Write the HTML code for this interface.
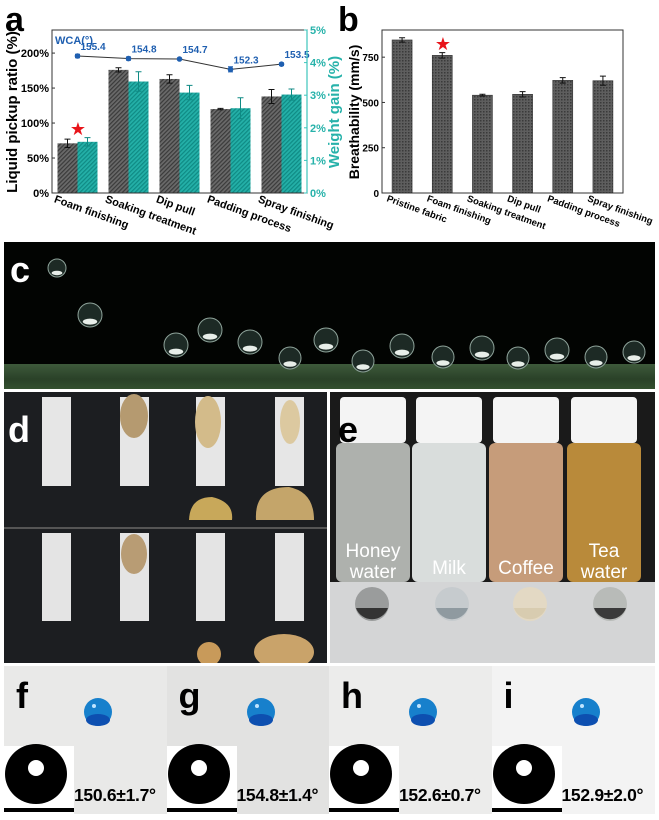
<!DOCTYPE html>
<html><head><meta charset="utf-8"><style>
body{margin:0;width:659px;height:820px;overflow:hidden;background:#fff;font-family:"Liberation Sans",Arial,sans-serif;position:relative}
.abs{position:absolute}
.lbl{position:absolute;font-weight:bold;font-size:36px;line-height:1;font-family:"Liberation Sans",sans-serif}
</style></head><body>
<svg class="abs" style="left:0;top:0" width="659" height="240">
<defs>
<pattern id="hd" width="3" height="3" patternUnits="userSpaceOnUse" patternTransform="rotate(45)"><rect width="3" height="3" fill="#6a6a6a"/><rect width="1.2" height="3" fill="#3a3a3a"/></pattern>
<pattern id="ht" width="3" height="3" patternUnits="userSpaceOnUse" patternTransform="rotate(45)"><rect width="3" height="3" fill="#24b0a8"/><rect width="1.2" height="3" fill="#0f8a84"/></pattern>
<pattern id="hb" width="3" height="3" patternUnits="userSpaceOnUse"><rect width="3" height="3" fill="#5e5e5e"/><rect width="1.5" height="1.5" fill="#3a3a3a"/></pattern>
</defs>
<g id="ga"></g><g id="gb"></g>
</svg>

<div class="abs" style="left:4px;top:242px;width:651px;height:147px;background:#020402;overflow:hidden">
 <div class="abs" style="left:0;top:122px;width:651px;height:25px;background:linear-gradient(#3e5a3b,#2a4128 60%,#33502f)"></div>
 <svg class="abs" style="left:0;top:0" width="651" height="147" id="drops"></svg>
 <div class="lbl" style="left:6px;top:10px;color:#fff">c</div>
</div>

<div class="abs" style="left:4px;top:392px;width:323px;height:271px;background:#1c1e21;overflow:hidden">
 <svg width="323" height="271" id="dsvg"></svg>
 <div class="lbl" style="left:4px;top:20px;color:#fff">d</div>
</div>

<div class="abs" style="left:330px;top:392px;width:325px;height:190px;background:#1a1a1a;overflow:hidden">
 <svg width="325" height="190" id="esvg"></svg>
 <div class="lbl" style="left:8px;top:20px;color:#000">e</div>
</div>
<div class="abs" style="left:330px;top:582px;width:325px;height:81px;background:#d4d5d6;overflow:hidden">
 <svg width="325" height="81" id="e2svg"></svg>
</div>

<div id="fi"></div>

<script>
var NS="http://www.w3.org/2000/svg";
function mk(p,t,a){var e=document.createElementNS(NS,t);for(var k in a)e.setAttribute(k,a[k]);p.appendChild(e);return e;}
// ---- chart a data
var catsA=["Foam finishing","Soaking treatment","Dip pull","Padding process","Spray finishing"];
var pickup=[71,176,163,120,138];
var pickupErr=[6,3,6,1,10];
var gain=[1.57,3.42,3.08,2.6,3.02];
var gainErr=[0.13,0.3,0.22,0.32,0.17];
var wca=[155.4,154.8,154.7,152.3,153.5];
var wcaErr=[0.4,0.4,0.1,0.6,0.3];
var leftTicks=[0,50,100,150,200];
var rightTicks=[0,1,2,3,4,5];
// ---- chart b data
var catsB=["Pristine fabric","Foam finishing","Soaking treatment","Dip pull","Padding process","Spray finishing"];
var breath=[845,760,540,545,622,620];
var breathErr=[12,15,5,15,15,25];
var bTicks=[0,250,500,750];

var ga=document.getElementById('ga');
var X0=52,X1=307,Y0=193,Y1=30;
function yL(v){return Y0-v/233*(Y0-Y1);}
function yR(v){return Y0-v/5*(Y0-Y1);}
function yW(v){return 56+(155.4-v)*4.3;}
function xC(i){return X0+(X1-X0)/catsA.length*(i+0.5);}
var t;
t=mk(ga,'text',{x:5,y:31,'font-size':34,'font-weight':'bold'});t.textContent='a';


for(var i=0;i<catsA.length;i++){
 var cx=xC(i);
 var r=mk(ga,'rect',{x:cx-20,y:yL(pickup[i]),width:20,height:Y0-yL(pickup[i]),fill:'url(#hd)'});
 
 
 var r2=mk(ga,'rect',{x:cx,y:yR(gain[i]),width:20,height:Y0-yR(gain[i]),fill:'url(#ht)'});
 
 
 var a=yL(pickup[i]-pickupErr[i]),b=yL(pickup[i]+pickupErr[i]);
 mk(ga,'path',{d:'M'+(cx-10)+' '+a+'V'+b+'M'+(cx-13)+' '+a+'h6M'+(cx-13)+' '+b+'h6',stroke:'#111','stroke-width':1});
 a=yR(gain[i]-gainErr[i]);b=yR(gain[i]+gainErr[i]);
 mk(ga,'path',{d:'M'+(cx+10)+' '+a+'V'+b+'M'+(cx+7)+' '+a+'h6M'+(cx+7)+' '+b+'h6',stroke:'#0f8a84','stroke-width':1});
 t=mk(ga,'text',{transform:'translate('+(cx-24)+',202) rotate(20)','font-size':11,'font-weight':'bold'});t.textContent=catsA[i];
 
 
}
var pts=wca.map(function(v,i){return xC(i)+','+yW(v)}).join(' ');
mk(ga,'polyline',{points:pts,fill:'none',stroke:'#333','stroke-width':1});
for(i=0;i<wca.length;i++){
 var px=xC(i),py=yW(wca[i]);
 mk(ga,'path',{d:'M'+px+' '+yW(wca[i]-wcaErr[i]*1)+'V'+yW(wca[i]+wcaErr[i])+'M'+(px-2.5)+' '+yW(wca[i]-wcaErr[i])+'h5M'+(px-2.5)+' '+yW(wca[i]+wcaErr[i])+'h5',stroke:'#1f5fb0','stroke-width':1});
 var c=mk(ga,'circle',{cx:px,cy:py,r:2.8,fill:'#1f5fb0'});
 
 
 t=mk(ga,'text',{x:px+3,y:py-6,'font-size':10,'font-weight':'bold',fill:'#1f5fb0'});t.textContent=wca[i].toFixed(1);
 
 
}
t=mk(ga,'text',{x:55,y:44,'font-size':11,'font-weight':'bold',fill:'#1f5fb0'});t.textContent='WCA(°)';


mk(ga,'rect',{x:X0,y:Y1,width:X1-X0,height:Y0-Y1,fill:'none',stroke:'#333','stroke-width':1});
mk(ga,'line',{x1:X1,y1:Y1,x2:X1,y2:Y0,stroke:'#3cc4bc','stroke-width':1.2});
leftTicks.forEach(function(v){var y=yL(v);mk(ga,'line',{x1:X0,x2:X0+3,y1:y,y2:y,stroke:'#333'});
 var tt=mk(ga,'text',{x:X0-3,y:y+4,'font-size':11,'font-weight':'bold','text-anchor':'end'});tt.textContent=v+'%';
 
 });
rightTicks.forEach(function(v){var y=yR(v);mk(ga,'line',{x1:X1,x2:X1-3,y1:y,y2:y,stroke:'#3cc4bc'});
 var tt=mk(ga,'text',{x:X1+3,y:y+4,'font-size':11,'font-weight':'bold',fill:'#27b2aa'});tt.textContent=v+'%';
 
 });
t=mk(ga,'text',{transform:'translate(17,112) rotate(-90)','font-size':15,'font-weight':'bold','text-anchor':'middle'});t.textContent='Liquid pickup ratio (%)';


t=mk(ga,'text',{transform:'translate(339,112) rotate(-90)','font-size':15,'font-weight':'bold','text-anchor':'middle',fill:'#27b2aa'});t.textContent='Weight gain (%)';


t=mk(ga,'text',{x:78,y:135,'font-size':18,fill:'#e8141a','text-anchor':'middle'});t.textContent='★';

// chart b
var gb=document.getElementById('gb');
var BX0=382,BX1=623;
function yB(v){return Y0-v/900*(Y0-Y1);}
function xB(i){return BX0+(BX1-BX0)/catsB.length*(i+0.5);}
t=mk(gb,'text',{x:338,y:31,'font-size':34,'font-weight':'bold'});t.textContent='b';


for(i=0;i<catsB.length;i++){
 var bx=xB(i);
 r=mk(gb,'rect',{x:bx-10,y:yB(breath[i]),width:20,height:Y0-yB(breath[i]),fill:'url(#hb)',stroke:'#333','stroke-width':0.6});
 
 
 a=yB(breath[i]-breathErr[i]);b=yB(breath[i]+breathErr[i]);
 mk(gb,'path',{d:'M'+bx+' '+a+'V'+b+'M'+(bx-3)+' '+a+'h6M'+(bx-3)+' '+b+'h6',stroke:'#111','stroke-width':1});
 t=mk(gb,'text',{transform:'translate('+(bx-16)+',201) rotate(20)','font-size':9.5,'font-weight':'bold'});t.textContent=catsB[i];
 
 
}
mk(gb,'rect',{x:BX0,y:Y1,width:BX1-BX0,height:Y0-Y1,fill:'none',stroke:'#333','stroke-width':1});
bTicks.forEach(function(v){var y=yB(v);mk(gb,'line',{x1:BX0,x2:BX0+3,y1:y,y2:y,stroke:'#333'});
 var tt=mk(gb,'text',{x:BX0-3,y:y+4,'font-size':10,'font-weight':'bold','text-anchor':'end'});tt.textContent=v;
 
 });
t=mk(gb,'text',{transform:'translate(359,112) rotate(-90)','font-size':14,'font-weight':'bold','text-anchor':'middle'});t.textContent='Breathability (mm/s)';


t=mk(gb,'text',{x:443,y:50,'font-size':18,fill:'#e8141a','text-anchor':'middle'});t.textContent='★';

// panel c droplets
var ds=document.getElementById('drops');
[[53,26,9],[86,73,12],[172,103,12],[206,88,12],[246,100,12],[286,116,11],[322,98,12],[359,119,11],[398,104,12],[439,115,11],[478,106,12],[514,116,11],[553,108,12],[592,115,11],[630,110,11]].forEach(function(d){
 mk(ds,'ellipse',{cx:d[0],cy:d[1],rx:d[2],ry:d[2],fill:'#1d2a25',stroke:'#8ea39a','stroke-width':1});
 mk(ds,'ellipse',{cx:d[0],cy:d[1]+d[2]*0.55,rx:d[2]*0.6,ry:d[2]*0.25,fill:'#e8eee9'});
});
// panel d
var dsv=document.getElementById('dsvg');
[38,116,192,271].forEach(function(x,j){
 mk(dsv,'rect',{x:x,y:5,width:29,height:89,fill:'#e6e6e6'});
 mk(dsv,'rect',{x:x,y:141,width:29,height:88,fill:'#e4e4e4'});
});
mk(dsv,'line',{x1:0,y1:136,x2:323,y2:136,stroke:'#555','stroke-width':2});
mk(dsv,'ellipse',{cx:130,cy:24,rx:14,ry:22,fill:'#b59a70'});
mk(dsv,'ellipse',{cx:130,cy:162,rx:13,ry:20,fill:'#b89c74'});
mk(dsv,'ellipse',{cx:204,cy:30,rx:13,ry:26,fill:'#d3bb8a'});
mk(dsv,'ellipse',{cx:286,cy:30,rx:10,ry:22,fill:'#dcc9a0'});
mk(dsv,'path',{d:'M185 128 Q186 105 208 105 Q230 110 228 128 Z',fill:'#c8a85a'});
mk(dsv,'path',{d:'M252 128 Q250 95 285 95 Q310 100 310 128 Z',fill:'#c4a56a'});
mk(dsv,'ellipse',{cx:280,cy:260,rx:30,ry:18,fill:'#c9a36a'});
mk(dsv,'ellipse',{cx:205,cy:262,rx:12,ry:12,fill:'#c89a5a'});
// panel e
var es=document.getElementById('esvg');
var vial=[[6,'#aeb1ad'],[82,'#d9dddc'],[159,'#c69c7a'],[237,'#b98a3a']];
var vn=[['Honey','water'],['Milk',''],['Coffee',''],['Tea','water']];
vial.forEach(function(v,j){
 mk(es,'rect',{x:v[0],y:51,width:74,height:139,rx:6,fill:v[1]});
 mk(es,'rect',{x:v[0]+4,y:5,width:66,height:46,rx:4,fill:'#f4f4f4'});
 var tx=mk(es,'text',{x:v[0]+37,y:vn[j][1]?165:182,'font-size':19,fill:'#fff','text-anchor':'middle'});tx.textContent=vn[j][0];
 
 
 if(vn[j][1]){tx=mk(es,'text',{x:v[0]+37,y:186,'font-size':19,fill:'#fff','text-anchor':'middle'});tx.textContent=vn[j][1];
 
 }
});
var e2=document.getElementById('e2svg');
[[42,'#9a9c9c','#333'],[122,'#c6cbce','#8f9aa0'],[200,'#e3d9c4','#d8ccb0'],[280,'#b8bbb8','#3a3a3a']].forEach(function(d){
 mk(e2,'circle',{cx:d[0],cy:22,r:17,fill:d[1]});
 mk(e2,'path',{d:'M'+(d[0]-16)+' 26 A17 17 0 0 0 '+(d[0]+16)+' 26 Z',fill:d[2]});
});
// panels f-i
var fi=document.getElementById('fi');
var fl=['f','g','h','i'],fv=['150.6±1.7°','154.8±1.4°','152.6±0.7°','152.9±2.0°'],fb=['#e9e9e8','#e2e2e1','#ececeb','#f3f3f3'];
for(var k=0;k<4;k++){
 var L=4+k*162.5;
 var p=document.createElement('div');p.className='abs';
 p.style.cssText='left:'+L+'px;top:666px;width:163px;height:148px;background:'+fb[k]+';overflow:hidden';
 
 
 p.innerHTML='<div class="lbl" style="left:12px;top:12px">'+fl[k]+'</div>'+
 '<svg class="abs" style="left:0;top:0" width="163" height="148">'+
 '<circle cx="94" cy="46" r="14" fill="#1780cc"/><ellipse cx="94" cy="54" rx="12" ry="6" fill="#0d4fb0"/><circle cx="90" cy="40" r="2" fill="#bfe4ff"/>'+
 '<rect x="0" y="80" width="70" height="68" fill="#fff"/><ellipse cx="32" cy="108" rx="31" ry="30" fill="#000"/><circle cx="32" cy="102" r="8" fill="#fff"/><rect x="0" y="142" width="70" height="4" fill="#000"/></svg>'+
 '<div class="abs" style="left:70px;top:119px;font-size:17.5px;font-weight:bold;white-space:nowrap;letter-spacing:-0.3px">'+fv[k]+'</div>';
 fi.appendChild(p);
}
</script>
</body></html>
